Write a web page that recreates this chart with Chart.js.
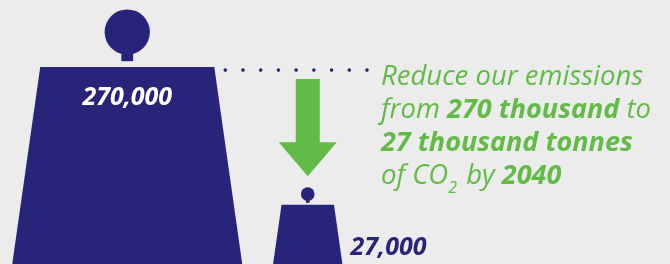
<!DOCTYPE html>
<html><head><meta charset="utf-8">
<script src="https://cdn.jsdelivr.net/npm/chart.js@4"></script>
<style>html,body{margin:0;padding:0;background:#ececec;overflow:hidden}canvas{display:block}</style>
</head><body>
<canvas id="c" width="670" height="264"></canvas>
<script>
// ---- data ----
const categories = ['Today', '2040'];
const emissions = [270000, 27000];   // tonnes of CO2
const messageLines = [
  [['Reduce our emissions', 'r']],
  [['from ', 'r'], ['270 thousand', 'b'], [' to', 'r']],
  [['27 thousand tonnes', 'b']],
  [['of CO', 'r'], ['2', 'sub'], [' by ', 'r'], ['2040', 'b']]
];
// ---- style ----
const NAVY = '#27247a', GREEN = '#62bb46', FONT = '"Open Sans", sans-serif';

function weightGeom(el) {
  const x = el.x, top = el.y, base = el.base, h = base - top;
  return {x, top, base, h, r: 0.115 * h, cy: top - 0.178 * h};
}

const weightsPlugin = {
  id: 'weights',
  afterDatasetsDraw(chart) {
    const ctx = chart.ctx;
    const els = chart.getDatasetMeta(0).data;
    ctx.save();
    els.forEach((el, i) => {
      const g = weightGeom(el);
      const {x, top, base, h} = g;
      ctx.fillStyle = NAVY;
      ctx.beginPath();
      ctx.moveTo(x - 0.442 * h, top);
      ctx.lineTo(x + 0.442 * h, top);
      ctx.lineTo(x + 0.584 * h, base);
      ctx.lineTo(x - 0.584 * h, base);
      ctx.closePath();
      ctx.fill();
      ctx.beginPath();
      ctx.arc(x, g.cy, g.r, 0, Math.PI * 2);
      ctx.fill();
      ctx.fillRect(x - 0.03 * h, g.cy, 0.06 * h, top - 0.03 * h - g.cy);
      const txt = emissions[i].toLocaleString('en-US');
      ctx.font = 'italic bold 25px ' + FONT;
      ctx.textBaseline = 'middle';
      if (i === 0) {
        ctx.fillStyle = '#ffffff';
        ctx.textAlign = 'center';
        ctx.fillText(txt, x, top + 0.157 * h);
      } else {
        ctx.fillStyle = NAVY;
        ctx.textAlign = 'left';
        ctx.fillText(txt, x + 0.72 * h, top + 0.725 * h);
      }
    });
    ctx.restore();
  },
  afterDraw(chart) {
    const ctx = chart.ctx;
    const els = chart.getDatasetMeta(0).data;
    const big = weightGeom(els[0]), small = weightGeom(els[1]);
    const textX = 381;
    ctx.save();
    // dotted guide line from big weight top
    ctx.fillStyle = NAVY;
    const dy = big.top + 3, d0 = big.x + 0.442 * big.h + 11, d1 = textX - 14, n = 9;
    for (let k = 0; k < n; k++) {
      ctx.beginPath();
      ctx.arc(d0 + (d1 - d0) * k / (n - 1), dy, 1.8, 0, Math.PI * 2);
      ctx.fill();
    }
    // green arrow
    const ax = small.x, aTop = big.top + 12, tip = small.cy - small.r - 11;
    const headH = 34, shaftW = 12, headW = 29;
    ctx.fillStyle = GREEN;
    ctx.beginPath();
    ctx.moveTo(ax - shaftW, aTop);
    ctx.lineTo(ax + shaftW, aTop);
    ctx.lineTo(ax + shaftW, tip - headH);
    ctx.lineTo(ax + headW, tip - headH);
    ctx.lineTo(ax, tip);
    ctx.lineTo(ax - headW, tip - headH);
    ctx.lineTo(ax - shaftW, tip - headH);
    ctx.closePath();
    ctx.fill();
    // message text
    ctx.textAlign = 'left';
    ctx.textBaseline = 'alphabetic';
    messageLines.forEach((runs, li) => {
      let x = textX;
      const y = 85 + li * 33;
      runs.forEach(([t, s]) => {
        let yy = y;
        if (s === 'b') ctx.font = 'italic bold 27px ' + FONT;
        else if (s === 'sub') { ctx.font = 'italic 16px ' + FONT; yy = y + 9; }
        else ctx.font = 'italic 27.5px ' + FONT;
        ctx.fillText(t, x, yy);
        x += ctx.measureText(t).width + (s === 'sub' ? 2 : 0);
      });
    });
    ctx.restore();
  }
};

function build() {
  new Chart(document.getElementById('c'), {
    type: 'bar',
    data: {
      labels: categories,
      datasets: [{data: emissions, backgroundColor: 'rgba(0,0,0,0)', borderWidth: 0}]
    },
    options: {
      responsive: false,
      animation: false,
      events: [],
      layout: {padding: {left: 37, right: 272, top: 0, bottom: 0}},
      plugins: {legend: {display: false}, tooltip: {enabled: false}},
      scales: {
        x: {display: false},
        y: {type: 'logarithmic', display: false, min: 10000, max: 830000}
      }
    },
    plugins: [weightsPlugin]
  });
}
Promise.all([
  document.fonts.load('italic 27px "Open Sans"'),
  document.fonts.load('italic bold 27px "Open Sans"')
]).then(build, build);
</script>
</body></html>
